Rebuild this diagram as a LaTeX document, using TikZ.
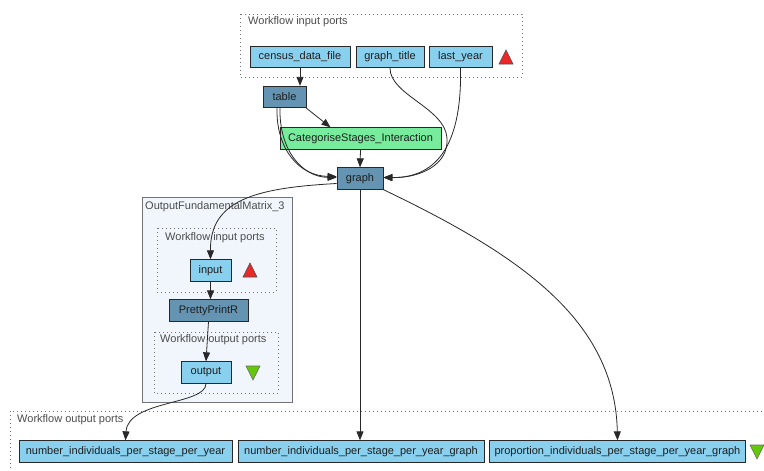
\documentclass[tikz,border=0pt]{standalone}
\usepackage{fontspec}
\setmainfont{Liberation Sans}
\usetikzlibrary{arrows.meta}
\definecolor{portc}{RGB}{137,208,238}
\definecolor{procc}{RGB}{100,148,178}
\definecolor{greenc}{RGB}{118,236,156}
\definecolor{clfill}{RGB}{240,246,252}
\definecolor{edgec}{RGB}{40,40,40}
\definecolor{txtc}{RGB}{30,30,30}
\definecolor{redtri}{RGB}{235,40,40}
\definecolor{greentri}{RGB}{100,200,10}
\begin{document}
\begin{tikzpicture}[x=1pt,y=-1pt,
  font=\fontsize{11}{12}\selectfont,
  box/.style={draw=edgec,line width=0.8pt,inner sep=0pt,minimum height=21.5pt,text=txtc,anchor=center},
  port/.style={box,fill=portc},
  proc/.style={box,fill=procc},
  beanshell/.style={box,fill=greenc},
  clusterlbl/.style={anchor=west,inner sep=0pt,text=black!70},
  dotbox/.style={draw=black!55,line width=1pt,dash pattern=on 0.8pt off 3.2pt},
  arr/.style={draw=edgec,line width=0.8pt,-{Triangle[length=9pt,width=7pt]}},
  uptri/.style={fill=redtri,draw=black!70,line width=0.6pt},
  dntri/.style={fill=greentri,draw=black!60,line width=0.6pt}
]
\useasboundingbox (0,0) rectangle (764,471);
\fill[white] (0,0) rectangle (764,471);

% clusters
\draw[dotbox] (240,14) rectangle (522,77);
\node[clusterlbl] (lin) at (248,22) {Workflow input ports};

\draw[draw=black!55,fill=clfill,line width=0.8pt] (142,197) rectangle (292,402);
\node[clusterlbl] (lsub) at (145,207) {OutputFundamentalMatrix\_3};
\draw[dotbox] (157,228) rectangle (276,292);
\node[clusterlbl] (lsubin) at (165,238) {Workflow input ports};
\draw[dotbox] (154,332) rectangle (278,393);
\node[clusterlbl] (lsubout) at (160,340) {Workflow output ports};

\draw[dotbox] (10,476) -- (10,411) -- (770,411);
\node[clusterlbl] (lout) at (17,420) {Workflow output ports};

% nodes
\node[port,minimum width=100pt] (census) at (300,57) {census\_data\_file};
\node[port,minimum width=68pt] (gtitle) at (390,57) {graph\_title};
\node[port,minimum width=63pt] (lastyear) at (460.5,57) {last\_year};
\node[proc,minimum width=43pt] (table) at (284.5,97) {table};
\node[beanshell,minimum width=161pt] (cat) at (360.5,138.5) {CategoriseStages\_Interaction};
\node[proc,minimum width=46pt] (graph) at (360,178.5) {graph};
\node[port,minimum width=41pt] (input) at (210.5,270.5) {input};
\node[proc,minimum width=79pt] (pretty) at (208.5,310.5) {PrettyPrintR};
\node[port,minimum width=50pt] (output) at (206,372.5) {output};
\node[port,minimum width=213pt] (out1) at (125.5,451.5) {number\_individuals\_per\_stage\_per\_year};
\node[port,minimum width=246pt] (out2) at (361,451.5) {number\_individuals\_per\_stage\_per\_year\_graph};
\node[port,minimum width=256pt] (out3) at (617.5,451.5) {proportion\_individuals\_per\_stage\_per\_year\_graph};

% triangles
\draw[uptri] (499,64) -- (506,50) -- (513,64) -- cycle;
\draw[uptri] (243,277) -- (250,263) -- (257,277) -- cycle;
\draw[dntri] (246,366) -- (260,366) -- (253,380) -- cycle;
\draw[dntri] (750,445) -- (764,445) -- (757,459) -- cycle;

% edges
\draw[arr] (census.south) -- (census.south |- table.north);
\draw[arr] (table.south east) -- ([xshift=-30pt]cat.north);
\draw[arr] ([xshift=-7.5pt]table.south) .. controls (276,150) and (300,176) .. ([yshift=2pt]graph.west);
\draw[arr] ([xshift=-4.5pt]table.south) .. controls (279,150) and (302,177) .. ([yshift=1pt]graph.west);
\draw[arr] (gtitle.south) .. controls (390,95) and (445,108) .. (447,138) .. controls (449,165) and (420,178) .. ([yshift=1pt]graph.east);
\draw[arr] (lastyear.south) .. controls (462,140) and (440,178) .. ([yshift=1pt]graph.east);
\draw[arr] (cat.south) -- (graph.north);
\draw[arr] ([yshift=-5pt]graph.west) .. controls (255,188) and (210,200) .. (input.north);
\draw[arr] (input.south) -- (input.south |- pretty.north);
\draw[arr] (pretty.south) -- (output.north);
\draw[arr] (output.south) .. controls (206,405) and (128,400) .. (out1.north);
\draw[arr] (graph.south) -- (graph.south |- out2.north);
\draw[arr] (graph.south east) .. controls (520,255) and (615,320) .. (out3.north);
\end{tikzpicture}
\end{document}
